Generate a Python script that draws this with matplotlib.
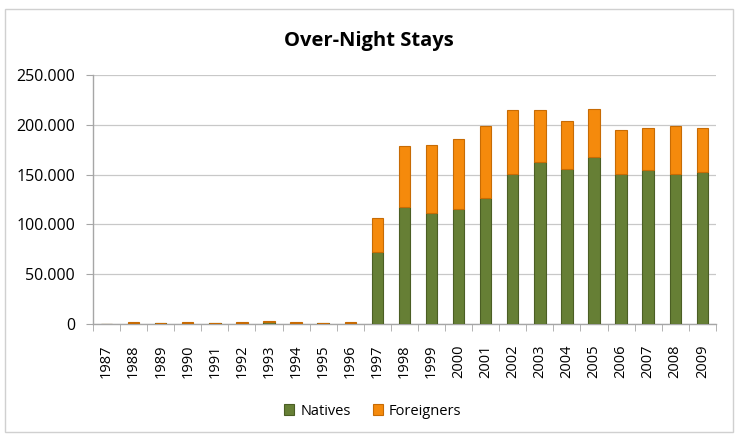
import matplotlib.pyplot as plt
import numpy as np
from matplotlib.ticker import FuncFormatter

years = [str(y) for y in range(1987, 2010)]
natives = [0, 500, 600, 700, 800, 1200, 2000, 900, 800, 1200,
           72100, 117400, 111700, 115700, 126400, 150900, 162600,
           155300, 167700, 150900, 154300, 150900, 152600]
totals = [0, 1500, 1400, 1500, 1400, 1800, 3200, 1500, 1400, 1800,
          106600, 178400, 179400, 186100, 198500, 215300, 215300,
          203500, 216300, 194500, 196800, 198500, 197200]
foreigners = [t - n for t, n in zip(totals, natives)]

plt.rcParams['font.family'] = ['Open Sans', 'DejaVu Sans']

fig = plt.figure(figsize=(7.38, 4.36), dpi=100)
ax = fig.add_axes([0.126, 0.257, 0.844, 0.571])

x = np.arange(len(years))
w = 0.42
ax.bar(x, natives, w, color='#667f35', edgecolor='#4b5e24', linewidth=0.8, label='Natives', zorder=3)
ax.bar(x, foreigners, w, bottom=natives, color='#f58a0c', edgecolor='#c76b04', linewidth=0.8,
       label='Foreigners', zorder=3)

ax.set_ylim(0, 250000)
ax.set_xlim(-0.5, len(years) - 0.5)
ax.set_yticks(np.arange(0, 250001, 50000))
ax.yaxis.set_major_formatter(FuncFormatter(lambda v, p: '0' if v == 0 else f'{int(v):,}'.replace(',', '.')))
ax.grid(axis='y', color='#c8c8c8', linewidth=0.9, zorder=0)
ax.tick_params(axis='y', length=5, color='#a6a6a6', labelsize=11.5, pad=8)

ax.set_xticks(x)
ax.set_xticklabels(years, rotation=90, fontsize=10.5)
ax.set_xticks(np.arange(-0.5, len(years), 1), minor=True)
ax.tick_params(axis='x', which='major', length=0, pad=15)
ax.tick_params(axis='x', which='minor', length=5, color='#a6a6a6', direction='out')

for s in ['top', 'right']:
    ax.spines[s].set_visible(False)
for s in ['left', 'bottom']:
    ax.spines[s].set_color('#a6a6a6')
    ax.spines[s].set_linewidth(1.0)

fig.text(0.50, 0.905, 'Over-Night Stays', ha='center', va='center', fontsize=14.5, fontweight='bold')
fig.legend(loc='center', bbox_to_anchor=(0.505, 0.057), ncol=2, frameon=False, fontsize=10.5,
           handlelength=0.7, handleheight=0.7, handletextpad=0.4, columnspacing=1.5)

fig.patches.append(plt.Rectangle((0.007, 0.01), 0.986, 0.97, transform=fig.transFigure,
                                 fill=False, edgecolor='#d0d0d0', linewidth=1))

fig.savefig('out.png', dpi=100)
